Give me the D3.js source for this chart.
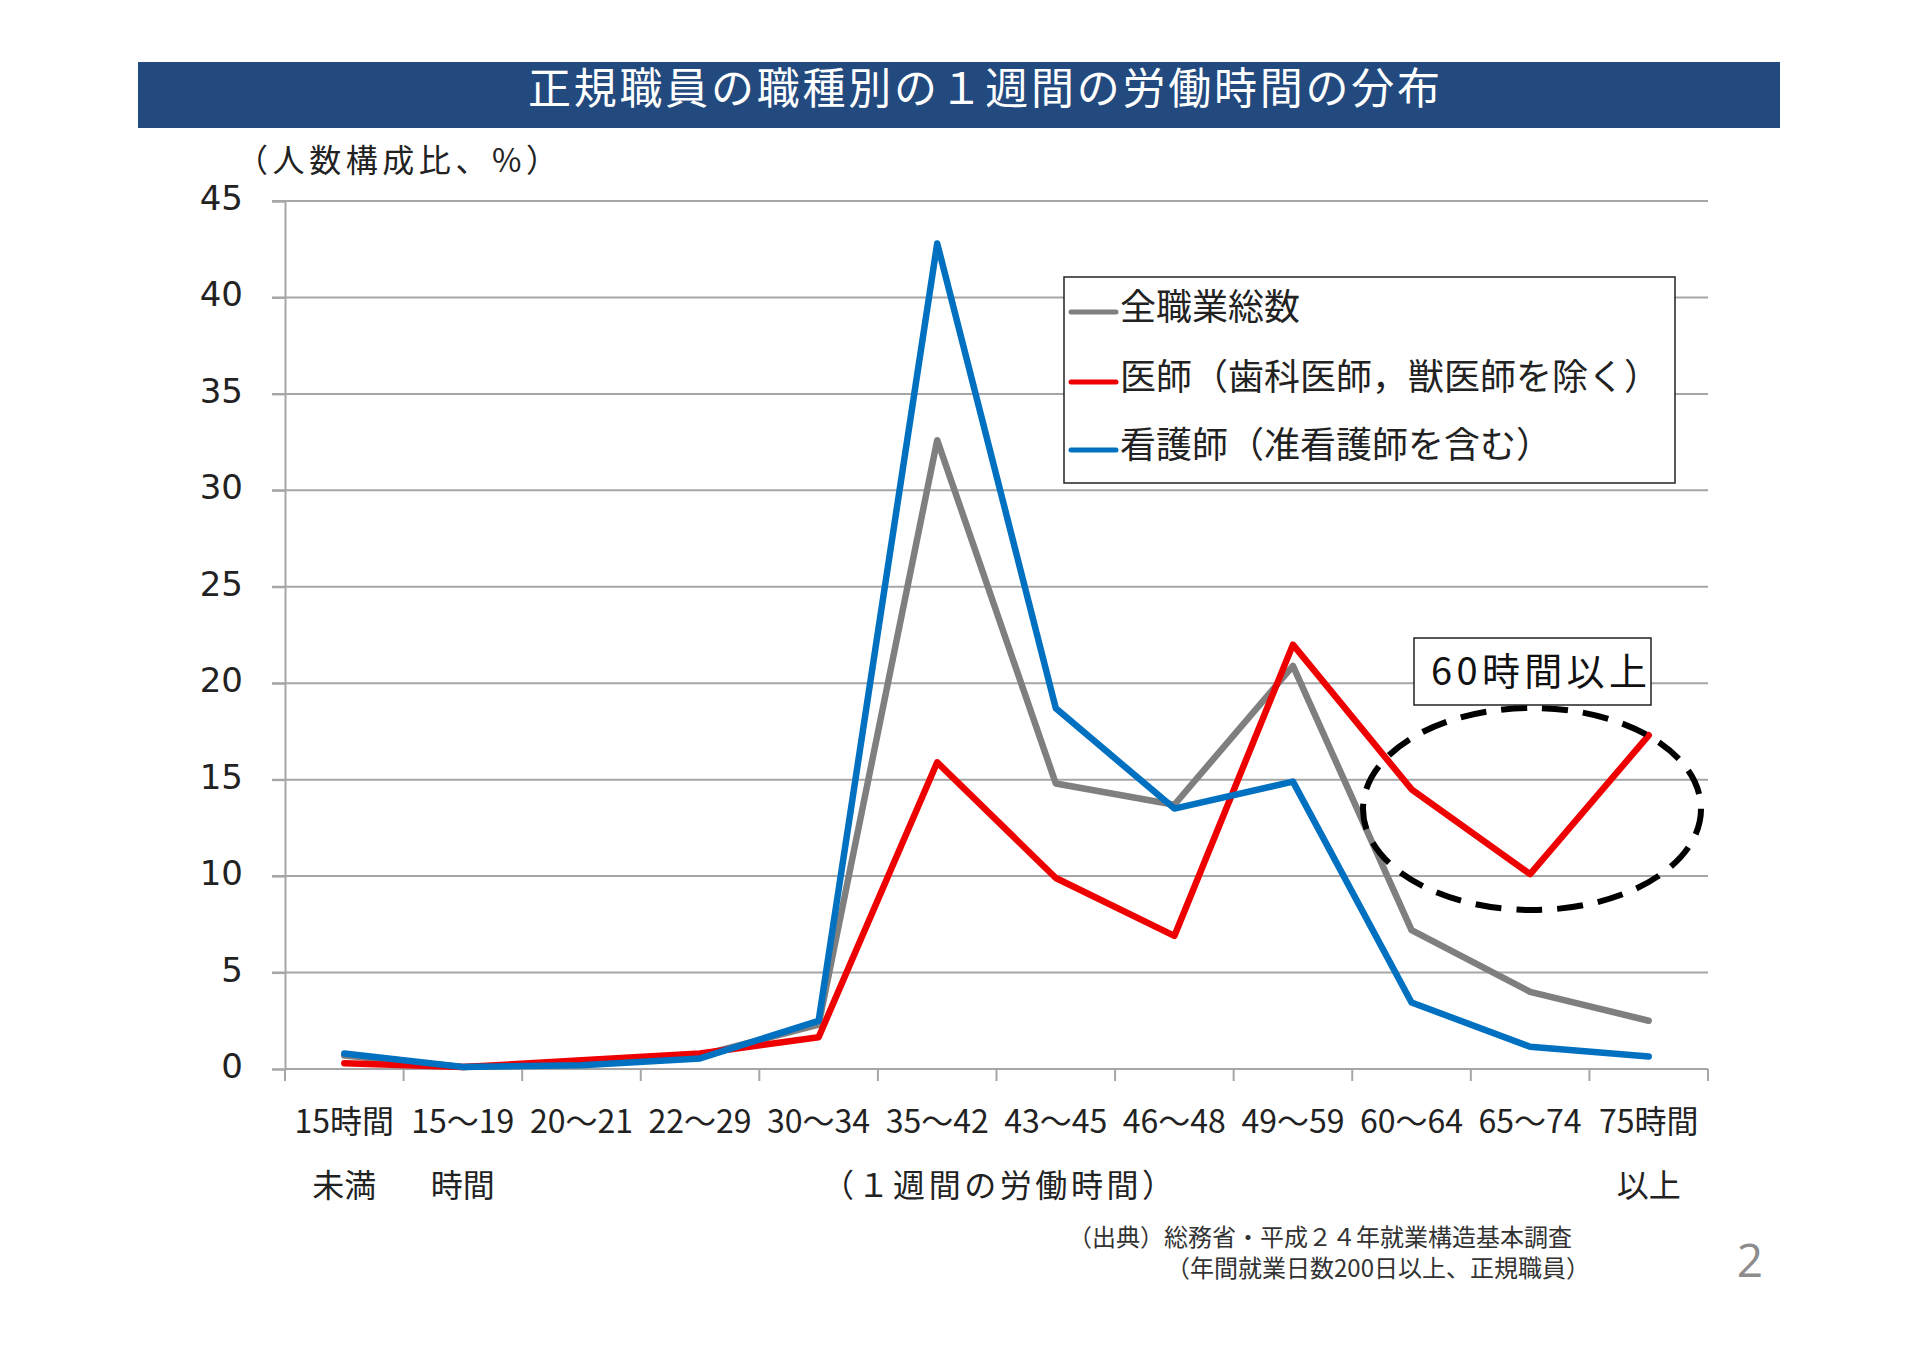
<!DOCTYPE html>
<html>
<head>
<meta charset="utf-8">
<script src="https://cdn.jsdelivr.net/npm/d3@7"></script>
<style>
  html, body { margin: 0; padding: 0; background: #fff; }
  svg { display: block; }
</style>
</head>
<body>
<div id="chart"></div>
<script>
const categories = ['15時間未満', '15～19時間', '20～21', '22～29', '30～34', '35～42', '43～45', '46～48', '49～59', '60～64', '65～74', '75時間以上']
const labelTop = ['15時間', '15～19', '20～21', '22～29', '30～34', '35～42', '43～45', '46～48', '49～59', '60～64', '65～74', '75時間']
const labelBottom = ['未満', '時間', '', '', '', '', '', '', '', '', '', '以上']

// 人数構成比（%）
const allJobs = [0.7, 0.1, 0.3, 0.7, 2.3, 32.6, 14.8, 13.7, 20.9, 7.2, 4.0, 2.5]
const doctors = [0.3, 0.1, 0.45, 0.8, 1.65, 15.9, 9.9, 6.9, 22.0, 14.5, 10.1, 17.3]
const nurses = [0.8, 0.1, 0.2, 0.55, 2.5, 42.8, 18.7, 13.5, 14.9, 3.45, 1.15, 0.65]

const seriesNames = ['全職業総数', '医師（歯科医師，獣医師を除く）', '看護師（准看護師を含む）']
const yTicks = [0, 5, 10, 15, 20, 25, 30, 35, 40, 45]

const jp = '"Noto Sans CJK JP", "Noto Sans", sans-serif'
const styles = {
  titleBar: '#234A7E',
  grid: '#A6A6A6',
  lines: ['#7F7F7F', '#EE0000', '#0070C0'],
  lineWidth: 6.5,
}

const W = 1920
const H = 1358
const plot = { left: 285, right: 1708, top: 201, bottom: 1069 }

const svg = d3.select('#chart')
  .append('svg')
  .attr('width', W)
  .attr('height', H)

// title
svg.append('rect')
  .attr('x', 138).attr('y', 62)
  .attr('width', 1642).attr('height', 66)
  .style('fill', styles.titleBar)

svg.append('text')
  .attr('x', 984).attr('y', 104)
  .attr('text-anchor', 'middle')
  .attr('textLength', 912)
  .attr('lengthAdjust', 'spacing')
  .style('font-family', jp)
  .style('font-size', '43px')
  .style('fill', '#fff')
  .text('正規職員の職種別の１週間の労働時間の分布')

svg.append('text')
  .attr('x', 236).attr('y', 172)
  .attr('textLength', 322)
  .attr('lengthAdjust', 'spacing')
  .style('font-family', jp)
  .style('font-size', '32px')
  .style('fill', '#222')
  .text('（人数構成比、%）')

const x = d3.scaleBand()
  .domain(categories)
  .range([plot.left, plot.right])
  .padding(0)

const y = d3.scaleLinear()
  .domain([0, 45])
  .range([plot.bottom, plot.top])

// gridlines
svg.append('g')
  .selectAll('line')
  .data(yTicks.filter(d => d > 0))
  .enter()
  .append('line')
  .attr('x1', plot.left - 13)
  .attr('x2', plot.right)
  .attr('y1', d => y(d))
  .attr('y2', d => y(d))
  .style('stroke', styles.grid)
  .style('stroke-width', 2)

// y axis
const yAxis = svg.append('g')
  .attr('transform', `translate(${plot.left},0)`)
  .call(d3.axisLeft(y).tickValues(yTicks).tickSize(13).tickPadding(30))
yAxis.select('.domain').style('stroke', styles.grid).style('stroke-width', 2)
yAxis.selectAll('.tick line').style('stroke', styles.grid).style('stroke-width', 2)
yAxis.selectAll('.tick text')
  .attr('x', -42)
  .attr('dy', '0.25em')
  .style('font-family', '"DejaVu Sans", Verdana, sans-serif')
  .style('font-size', '34px')
  .style('fill', '#222')

// x axis with ticks on category boundaries
const bounds = x.domain().map(d => x(d)).concat([x.range()[1]])
svg.append('line')
  .attr('x1', plot.left).attr('x2', plot.right)
  .attr('y1', y(0)).attr('y2', y(0))
  .style('stroke', styles.grid)
  .style('stroke-width', 2)
svg.append('g')
  .selectAll('line')
  .data(bounds)
  .enter()
  .append('line')
  .attr('x1', d => d).attr('x2', d => d)
  .attr('y1', y(0)).attr('y2', y(0) + 12)
  .style('stroke', styles.grid)
  .style('stroke-width', 2)

const xLabels = svg.append('g')
  .style('font-family', jp)
  .style('font-size', '32px')
  .style('fill', '#222')
  .attr('text-anchor', 'middle')

xLabels.selectAll('.top')
  .data(categories)
  .enter()
  .append('text')
  .attr('x', d => x(d) + x.bandwidth() / 2)
  .attr('y', 1133)
  .text((d, i) => labelTop[i])

xLabels.selectAll('.bottom')
  .data(categories)
  .enter()
  .append('text')
  .attr('x', d => x(d) + x.bandwidth() / 2)
  .attr('y', 1197)
  .text((d, i) => labelBottom[i])

xLabels.append('text')
  .attr('x', 998)
  .attr('y', 1197)
  .attr('textLength', 352)
  .attr('lengthAdjust', 'spacing')
  .text('（１週間の労働時間）')

// series lines
const line = d3.line()
  .x(d => x(d.cat) + x.bandwidth() / 2)
  .y(d => y(d.value))

const series = [allJobs, doctors, nurses].map((vals, k) => ({
  name: seriesNames[k],
  color: styles.lines[k],
  values: vals.map((v, i) => ({ cat: categories[i], value: v })),
}))

svg.append('g')
  .selectAll('path')
  .data(series)
  .enter()
  .append('path')
  .attr('d', d => line(d.values))
  .style('fill', 'none')
  .style('stroke', d => d.color)
  .style('stroke-width', styles.lineWidth)
  .style('stroke-linejoin', 'round')
  .style('stroke-linecap', 'round')

// legend
const legend = svg.append('g')
legend.append('rect')
  .attr('x', 1064).attr('y', 277)
  .attr('width', 611).attr('height', 206)
  .style('fill', '#fff')
  .style('stroke', '#222')
  .style('stroke-width', 1.5)

const legendRows = [312, 382, 450]
const items = legend.selectAll('.item')
  .data(series)
  .enter()
  .append('g')
  .attr('transform', (d, i) => `translate(0,${legendRows[i]})`)
items.append('line')
  .attr('x1', 1071).attr('x2', 1116)
  .style('stroke', d => d.color)
  .style('stroke-width', 5)
  .style('stroke-linecap', 'round')
items.append('text')
  .attr('x', 1120)
  .attr('y', 8)
  .style('font-family', jp)
  .style('font-size', '36px')
  .style('fill', '#222')
  .text(d => d.name)

// 60時間以上 annotation
svg.append('ellipse')
  .attr('cx', 1532).attr('cy', 809)
  .attr('rx', 169).attr('ry', 101)
  .style('fill', 'none')
  .style('stroke', '#000')
  .style('stroke-width', 6)
  .style('stroke-dasharray', '26 15')

svg.append('rect')
  .attr('x', 1414).attr('y', 638)
  .attr('width', 237).attr('height', 67)
  .style('fill', '#fff')
  .style('stroke', '#222')
  .style('stroke-width', 1.5)
svg.append('text')
  .attr('x', 1539).attr('y', 685)
  .attr('text-anchor', 'middle')
  .attr('textLength', 216)
  .attr('lengthAdjust', 'spacing')
  .style('font-family', jp)
  .style('font-size', '38px')
  .style('fill', '#111')
  .text('60時間以上')

// source note
const note = svg.append('g')
  .style('font-family', jp)
  .style('font-size', '24px')
  .style('fill', '#333')
  .attr('text-anchor', 'end')
note.append('text').attr('x', 1572).attr('y', 1246).text('（出典）総務省・平成２４年就業構造基本調査')
note.append('text').attr('x', 1590).attr('y', 1277).text('（年間就業日数200日以上、正規職員）')

svg.append('text')
  .attr('x', 1750).attr('y', 1277)
  .attr('text-anchor', 'middle')
  .style('font-family', '"Open Sans", sans-serif')
  .style('font-size', '46px')
  .style('fill', '#8C8C8C')
  .text('2')
</script>
</body>
</html>
